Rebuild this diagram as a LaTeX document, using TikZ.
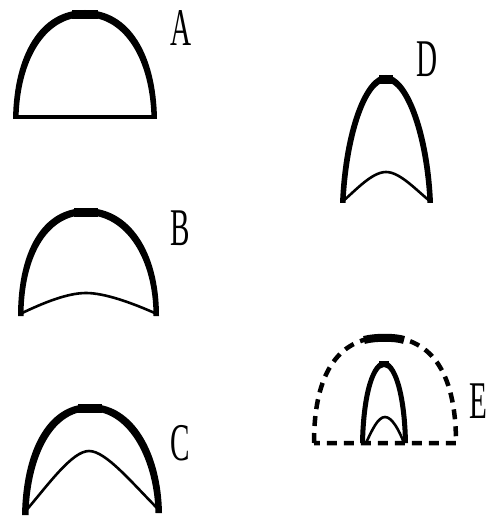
\documentclass[tikz,border=0pt]{standalone}
\usepackage{fontspec}
\setmainfont{Liberation Serif}
\tikzset{
  band/.style={fill=black},
  topcap/.style={draw=black,line width=9pt},
  rim/.style={draw=black,line width=3.5pt,line join=round},
  thinrim/.style={draw=black,line width=2.6pt,line join=round},
  dashrim/.style={draw=black,line width=4.5pt,dash pattern=on 10pt off 7pt},
  tag/.style={font=\fontsize{53}{53}\selectfont,xscale=0.55,inner sep=0pt},
}
\begin{document}
\begin{tikzpicture}[x=1pt,y=-1pt]
  \useasboundingbox (0,0) rectangle (489,521);
  % A
  \fill[band] (13,119) .. controls (14,55) and (40,10) .. (85,10) .. controls (130,10) and (156,55) .. (157,119)
    -- (151.5,119) .. controls (150.5,62) and (126,17) .. (85,17) .. controls (44,17) and (19.5,62) .. (18.5,119) -- cycle;
  \draw[topcap] (72,14.5) -- (98,14.5);
  \draw[rim] (14,117) -- (156,117);
  \node[tag] (la) at (181,28) {A};
  % B
  \fill[band] (18,316) .. controls (18,252) and (42,208) .. (86,208) .. controls (130,208) and (159,252) .. (159,316)
    -- (153.5,316) .. controls (153.5,259) and (126,215) .. (86,215) .. controls (46,215) and (23.5,259) .. (23.5,316) -- cycle;
  \draw[topcap] (74,212.5) -- (98,212.5);
  \draw[thinrim] (20,314) .. controls (45,302) and (68,293) .. (86,293) .. controls (104,293) and (130,302) .. (157,314);
  \node[tag] (lb) at (180,228) {B};
  % C
  \fill[band] (22,515) .. controls (23,455) and (45,404) .. (90,404) .. controls (135,404) and (161,455) .. (162,513)
    -- (155.5,513) .. controls (154.5,462) and (130,411) .. (90,411) .. controls (50,411) and (29.5,462) .. (28.5,515) -- cycle;
  \draw[topcap] (78,408.5) -- (102,408.5);
  \draw[thinrim] (24,513) .. controls (48,485) and (72,451) .. (89,451) .. controls (106,451) and (132,483) .. (160,511);
  \node[tag] (lc) at (180,443) {C};
  % D
  \fill[band] (340,203) .. controls (343,130) and (364,75) .. (386,75) .. controls (408,75) and (430,130) .. (433,203)
    -- (427.5,203) .. controls (424.5,138) and (405,82) .. (386,82) .. controls (367,82) and (348.5,138) .. (345.5,203) -- cycle;
  \draw[topcap] (379,79.5) -- (393,79.5);
  \draw[thinrim] (342,202) .. controls (356,190) and (372,172) .. (386,172) .. controls (400,172) and (416,190) .. (431,202);
  \node[tag] (ld) at (427,59) {D};
  % E
  \draw[dashrim] (314,443) .. controls (314,368) and (342,337) .. (385,337) .. controls (428,337) and (456,368) .. (456,443) -- cycle;
  \draw[line width=8pt] (364,340) .. controls (375,337) and (395,337) .. (404,340);
  \fill[band] (360,443) .. controls (361,390) and (372,361) .. (384,361) .. controls (396,361) and (407,390) .. (408,443)
    -- (403,443) .. controls (402,396) and (393,367) .. (384,367) .. controls (375,367) and (366,396) .. (365,443) -- cycle;
  \draw[topcap,line width=6pt] (379,364) -- (389,364);
  \draw[thinrim] (366,443) .. controls (372,430) and (378,417) .. (385,417) .. controls (392,417) and (399,430) .. (404,443);
  \node[tag] (le) at (478,401) {E};
\end{tikzpicture}
\end{document}
